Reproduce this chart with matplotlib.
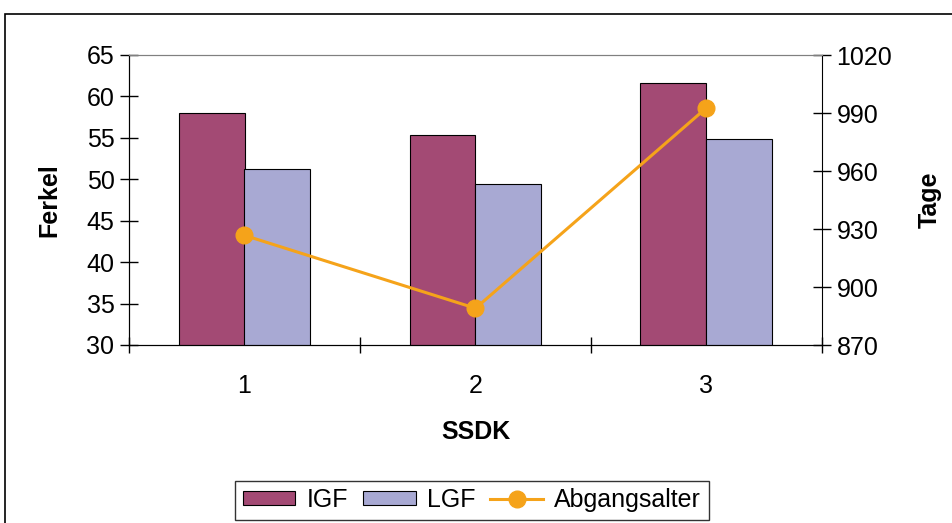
import numpy as np
import matplotlib
matplotlib.use("Agg")
from matplotlib import pyplot as plt
from matplotlib.patches import Rectangle

plt.rcParams['font.family'] = ['Liberation Sans', 'DejaVu Sans']

kategorien = ['1', '2', '3']
igf = [58.0, 55.4, 61.6]
lgf = [51.3, 49.4, 54.9]
abgangsalter = [926.7, 889.0, 992.7]

fs = 18

fig = plt.figure(figsize=(9.52, 5.23), dpi=100)
ax = fig.add_axes([129 / 952, 1 - 345 / 523, (822 - 129) / 952, (345 - 55) / 523])
ax2 = ax.twinx()

x = np.arange(1, len(kategorien) + 1)
w = 1 / 3.5
b1 = ax.bar(x - w / 2, igf, w, color='#A34A74', edgecolor='black', linewidth=0.8, label='IGF', zorder=2)
b2 = ax.bar(x + w / 2, lgf, w, color='#A8A9D3', edgecolor='black', linewidth=0.8, label='LGF', zorder=2)
l1, = ax2.plot(x, abgangsalter, color='#F5A31A', linewidth=2.2, marker='o', markersize=12,
               label='Abgangsalter')

ax.set_xlim(0.5, 3.5)
ax.set_ylim(30, 65)
ax.set_yticks(range(30, 66, 5))
ax2.set_ylim(870, 1020)
ax2.set_yticks(range(870, 1021, 30))

ax.set_xticks(x)
ax.set_xticklabels(kategorien)
ax.set_xticks([0.5, 1.5, 2.5, 3.5], minor=True)
ax.tick_params(axis='x', which='major', length=0, pad=21, labelsize=fs)
ax.tick_params(axis='x', which='minor', direction='inout', length=12, width=1)
ax.tick_params(axis='y', direction='inout', length=13, width=1, labelsize=fs, pad=4)
ax2.tick_params(axis='y', direction='inout', length=13, width=1, labelsize=fs, pad=4)

for s in ['left', 'bottom']:
    ax.spines[s].set_color('black')
ax.spines['top'].set_color('#808080')
ax2.spines['top'].set_color('#808080')
ax2.spines['right'].set_color('black')
ax.spines['right'].set_visible(False)

ax.set_ylabel('Ferkel', fontsize=fs, fontweight='bold', labelpad=18)
ax2.set_ylabel('Tage', fontsize=fs, fontweight='bold', labelpad=18)
ax.set_xlabel('SSDK', fontsize=fs, fontweight='bold', labelpad=16)

leg = fig.legend(handles=[b1, b2, l1], loc='center', bbox_to_anchor=(472 / 952, 1 - 500 / 523),
                 ncol=3, fontsize=fs, frameon=True, fancybox=False, edgecolor='black',
                 handlelength=2.1, handleheight=0.5, handletextpad=0.45, columnspacing=0.6,
                 borderpad=0.3, borderaxespad=0)
leg.get_frame().set_linewidth(1.0)

# Rahmen
fig.patches.append(Rectangle((5 / 952, -0.1), 1.2, 1.1 - 14 / 523, transform=fig.transFigure,
                             fill=False, edgecolor='black', linewidth=1.2))

fig.savefig('out.png', dpi=100)
